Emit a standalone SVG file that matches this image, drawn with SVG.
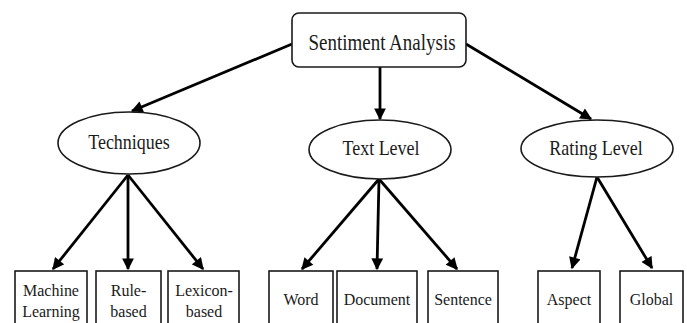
<svg xmlns="http://www.w3.org/2000/svg" width="687" height="323" viewBox="0 0 687 323">
<style>
.bg{fill:#ffffff}
.node{fill:#ffffff;stroke:#1a1a1a;stroke-width:1.6}
text{font-family:'Liberation Serif','DejaVu Serif','Times New Roman',serif;fill:#1a1a1a;text-anchor:middle}
.big{font-size:19px}
.mid{font-size:18px}
.sm{font-size:16px}
.edge{stroke:#000;stroke-width:2.8;fill:none;marker-end:url(#ah)}
</style>
<defs>
<marker id="ah" viewBox="0 0 10 10" refX="9" refY="5" markerWidth="4.6" markerHeight="4.2" orient="auto" markerUnits="strokeWidth">
<path d="M0,0 L10,5 L0,10 z" fill="#000"/>
</marker>
</defs>
<rect class="bg" x="0" y="0" width="687" height="323"/>
<g id="connectors">
<line class="edge" x1="292" y1="44" x2="132" y2="111"/>
<line class="edge" x1="380" y1="67" x2="380" y2="119"/>
<line class="edge" x1="466" y1="44" x2="591" y2="119"/>
<line class="edge" x1="128" y1="175" x2="53" y2="269"/>
<line class="edge" x1="128" y1="175" x2="128" y2="269"/>
<line class="edge" x1="128" y1="175" x2="203" y2="269"/>
<line class="edge" x1="379" y1="179" x2="302" y2="269"/>
<line class="edge" x1="379" y1="179" x2="377" y2="269"/>
<line class="edge" x1="379" y1="179" x2="457" y2="269"/>
<line class="edge" x1="597" y1="177" x2="572" y2="268"/>
<line class="edge" x1="597" y1="177" x2="652" y2="268"/>
</g>
<g id="root">
<rect class="node" x="292" y="13" width="174" height="54" rx="7"/>
<text class="big" font-family="Liberation Serif, serif" transform="translate(382,50) scale(1,1.17)">Sentiment Analysis</text>
</g>
<g id="techniques">
<ellipse class="node" cx="129" cy="143" rx="71" ry="31"/>
<text class="mid" font-family="Liberation Serif, serif" transform="translate(129,149) scale(1,1.17)">Techniques</text>
</g>
<g id="text-level">
<ellipse class="node" cx="380" cy="149.5" rx="71" ry="29.5"/>
<text class="mid" font-family="Liberation Serif, serif" transform="translate(381,155) scale(1,1.17)">Text Level</text>
</g>
<g id="rating-level">
<ellipse class="node" cx="597" cy="148.5" rx="76" ry="28.5"/>
<text class="mid" font-family="Liberation Serif, serif" transform="translate(596,155) scale(1,1.17)">Rating Level</text>
</g>
<g id="machine-learning">
<rect class="node" x="15" y="271" width="72" height="60"/>
<text class="sm" font-family="Liberation Serif, serif" transform="translate(51,296) scale(1,1.08)">Machine</text>
<text class="sm" font-family="Liberation Serif, serif" transform="translate(51,317) scale(1,1.08)">Learning</text>
</g>
<g id="rule-based">
<rect class="node" x="96" y="271" width="65" height="60"/>
<text class="sm" font-family="Liberation Serif, serif" transform="translate(128.5,296) scale(1,1.08)">Rule-</text>
<text class="sm" font-family="Liberation Serif, serif" transform="translate(128.5,317) scale(1,1.08)">based</text>
</g>
<g id="lexicon-based">
<rect class="node" x="168" y="271" width="71" height="60"/>
<text class="sm" font-family="Liberation Serif, serif" transform="translate(204,296) scale(1,1.08)">Lexicon-</text>
<text class="sm" font-family="Liberation Serif, serif" transform="translate(204,317) scale(1,1.08)">based</text>
</g>
<g id="word">
<rect class="node" x="269" y="271" width="64" height="60"/>
<text class="sm" font-family="Liberation Serif, serif" transform="translate(301,305) scale(1,1.1)">Word</text>
</g>
<g id="document">
<rect class="node" x="337" y="271" width="80" height="60"/>
<text class="sm" font-family="Liberation Serif, serif" transform="translate(377,305) scale(1,1.1)">Document</text>
</g>
<g id="sentence">
<rect class="node" x="428" y="271" width="70" height="60"/>
<text class="sm" font-family="Liberation Serif, serif" transform="translate(463,305) scale(1,1.1)">Sentence</text>
</g>
<g id="aspect">
<rect class="node" x="538" y="271" width="62" height="60"/>
<text class="sm" font-family="Liberation Serif, serif" transform="translate(569,305) scale(1,1.1)">Aspect</text>
</g>
<g id="global">
<rect class="node" x="620" y="271" width="63" height="60"/>
<text class="sm" font-family="Liberation Serif, serif" transform="translate(651.5,305) scale(1,1.1)">Global</text>
</g>
</svg>
